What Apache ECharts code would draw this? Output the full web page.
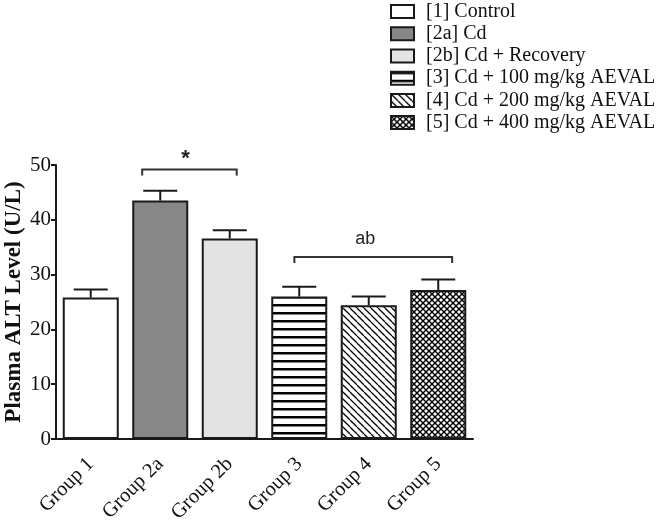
<!DOCTYPE html>
<html>
<head>
<meta charset="utf-8">
<script src="https://cdn.jsdelivr.net/npm/echarts@6/dist/echarts.min.js"></script>
<style>html,body{margin:0;padding:0;background:#fff;}#c{width:666px;height:525px;}</style>
</head>
<body>
<div id="c"></div>
<script>
// ---- data ----
const categories = ['Group 1', 'Group 2a', 'Group 2b', 'Group 3', 'Group 4', 'Group 5'];
const legendNames = ['[1] Control', '[2a] Cd', '[2b] Cd + Recovery', '[3] Cd + 100 mg/kg AEVAL', '[4] Cd + 200 mg/kg AEVAL', '[5] Cd + 400 mg/kg AEVAL'];
const means = [25.8, 43.5, 36.6, 26.0, 24.4, 27.2];
const errUpper = [27.3, 45.3, 38.1, 27.8, 26.0, 29.1];
const yTicks = [0, 10, 20, 30, 40, 50];
// brackets: [startIndex, endIndex, level, label]
const brackets = [[1, 2, 49.2, '*'], [3, 5, 33.2, 'ab']];

// ---- patterns ----
function tile(size, draw) {
  const c = document.createElement('canvas');
  c.width = size; c.height = size;
  const g = c.getContext('2d');
  g.fillStyle = '#fff'; g.fillRect(0, 0, size, size);
  g.strokeStyle = '#000'; g.fillStyle = '#000';
  draw(g, size);
  return c;
}
const stripes = tile(8, (g, s) => { g.fillRect(0, 0, s, 2.5); });
const diag = tile(7, (g, s) => {
  g.lineWidth = 1.3;
  for (const k of [-s, 0, s]) { g.beginPath(); g.moveTo(k, 0); g.lineTo(k + s, s); g.stroke(); }
});
const cross = tile(6, (g, s) => {
  g.lineWidth = 1.4;
  for (const k of [-s, 0, s]) {
    g.beginPath(); g.moveTo(k, 0); g.lineTo(k + s, s); g.stroke();
    g.beginPath(); g.moveTo(k + s, 0); g.lineTo(k, s); g.stroke();
  }
});
const fills = [
  '#ffffff', '#878787', '#e3e3e3',
  { image: stripes, repeat: 'repeat' },
  { image: diag, repeat: 'repeat' },
  { image: cross, repeat: 'repeat' }
];

const barSeries = legendNames.map((name, i) => ({
  name: name,
  type: 'bar',
  barWidth: 56,
  barGap: '-100%',
  data: categories.map((c, j) => (j === i ? means[j] : '-')),
  itemStyle: { color: fills[i], borderColor: '#1a1a1a', borderWidth: 2 },
  emphasis: { disabled: true },
  z: 2
}));

const errSeries = {
  type: 'custom',
  name: 'err',
  data: categories.map((c, i) => [i, means[i], errUpper[i]]),
  z: 3,
  renderItem: function (params, api) {
    const x = api.value(0);
    const p0 = api.coord([x, api.value(1)]);
    const p1 = api.coord([x, api.value(2)]);
    const hw = 17;
    const st = { stroke: '#1a1a1a', lineWidth: 2 };
    return {
      type: 'group',
      children: [
        { type: 'line', shape: { x1: p0[0], y1: p0[1], x2: p1[0], y2: p1[1] }, style: st },
        { type: 'line', shape: { x1: p1[0] - hw, y1: p1[1], x2: p1[0] + hw, y2: p1[1] }, style: st }
      ]
    };
  }
};

const bracketSeries = {
  type: 'custom',
  name: 'brackets',
  data: brackets.map(b => [b[0], b[1], b[2]]),
  z: 3,
  renderItem: function (params, api) {
    const b = brackets[params.dataIndex];
    const band = api.size([1, 0])[0];
    const a = api.coord([b[0], b[2]]);
    const e = api.coord([b[1], b[2]]);
    const x1 = a[0] - (b[3] === '*' ? 0.26 : 0.07) * band;
    const x2 = e[0] + (b[3] === '*' ? 0.10 : 0.20) * band;
    const y = a[1];
    const drop = 6;
    const st = { stroke: '#333', lineWidth: 2, fill: null };
    return {
      type: 'group',
      children: [
        { type: 'polyline', shape: { points: [[x1, y + drop], [x1, y], [x2, y], [x2, y + drop]] }, style: st },
        { type: 'text', x: (x1 + x2) / 2 - (b[3] === '*' ? 4 : 8), y: y - (b[3] === '*' ? 10 : 18),
          style: { text: b[3], fill: '#222', align: 'center', verticalAlign: 'middle',
                   font: b[3] === '*' ? 'bold 22px "Liberation Sans"' : '18px "Liberation Sans"' } }
      ]
    };
  }
};

const chart = echarts.init(document.getElementById('c'), null, { renderer: 'canvas' });
chart.setOption({
  animation: false,
  backgroundColor: '#fff',
  legend: {
    data: legendNames,
    orient: 'vertical',
    left: 390,
    top: 1,
    padding: 0,
    itemWidth: 23,
    itemHeight: 13,
    itemGap: 1,
    icon: 'rect',
    selectedMode: false,
    textStyle: { fontFamily: 'Liberation Serif', fontSize: 20, color: '#111', lineHeight: 21.2, padding: [0, 0, 0, 7] }
  },
  grid: { left: 56, right: 193, top: 165, bottom: 86, containLabel: false, outerBoundsMode: 'none' },
  xAxis: {
    type: 'category',
    data: categories,
    axisLine: { lineStyle: { color: '#1a1a1a', width: 2 } },
    axisTick: { alignWithLabel: true, length: 6, lineStyle: { color: '#1a1a1a', width: 2 } },
    axisLabel: { rotate: 45, fontFamily: 'Liberation Serif', fontSize: 20.5, color: '#111', margin: 22, interval: 0 }
  },
  yAxis: {
    type: 'value',
    min: yTicks[0],
    max: yTicks[yTicks.length - 1],
    interval: 10,
    name: 'Plasma ALT Level (U/L)',
    nameLocation: 'middle',
    nameGap: 30,
    nameMoveOverlap: false,
    nameTextStyle: { fontFamily: 'Liberation Serif', fontWeight: 'bold', fontSize: 23, color: '#111' },
    axisLine: { show: true, lineStyle: { color: '#1a1a1a', width: 2 } },
    axisTick: { show: true, length: 5, lineStyle: { color: '#1a1a1a', width: 2 } },
    splitLine: { show: false },
    axisLabel: { fontFamily: 'Liberation Serif', fontSize: 21, color: '#111', margin: 5 }
  },
  series: barSeries.concat([errSeries, bracketSeries])
});
</script>
</body>
</html>
